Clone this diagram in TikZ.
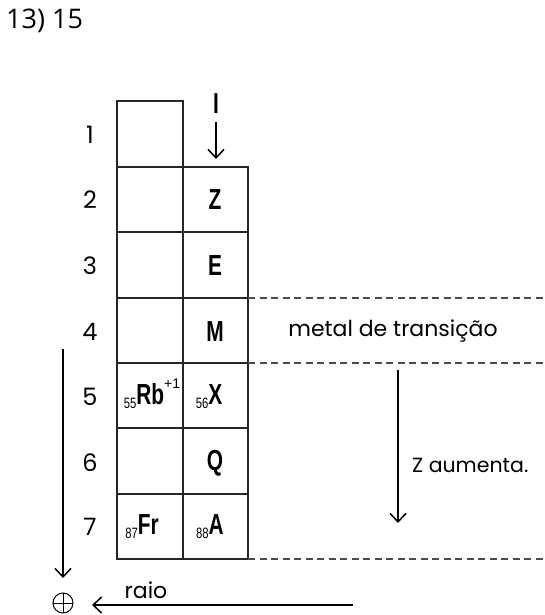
\documentclass[tikz,border=0pt]{standalone}
\usepackage{graphicx}
\usepackage{fontspec}
\setmainfont{Poppins}
\newfontfamily\numfont{Open Sans}
\newfontfamily\symfont{Liberation Sans}
\usetikzlibrary{arrows.meta}
\newcommand\elsym[1]{\scalebox{0.72}[1]{\symfont\bfseries\fontsize{29}{29}\selectfont #1}}
\newcommand\elsub[1]{\raisebox{-4pt}{\scalebox{0.75}[1]{\symfont\fontsize{15}{15}\selectfont #1}}}
\newcommand\elchg[1]{\raisebox{16pt}{\symfont\fontsize{14}{14}\selectfont #1}}
\begin{document}
\begin{tikzpicture}[x=1pt,y=-1pt,
  gridline/.style={line width=1.2pt, draw=black!85},
  dashline/.style={line width=1.1pt, draw=black!70, dash pattern=on 7pt off 4.5pt},
  arr/.style={line width=1.2pt, -{Straight Barb[length=8.5pt,width=16pt,line width=1.5pt]}},
  lab/.style={font=\fontsize{22}{26}\selectfont, inner sep=0pt},
  rownum/.style={font=\fontsize{24}{26}\selectfont, inner sep=0pt},
  elem/.style={inner sep=0pt}
]
\useasboundingbox (0,0) rectangle (544,615);

% title
\node[font=\numfont\fontsize{27}{28}\selectfont, anchor=west, inner sep=0pt] (title) at (6,21) {13) 15};

% grid
\draw[gridline] (117,101) rectangle (183,167);
\foreach \ya/\yb in {167/232,232/298,298/363,363/428,428/494,494/559}{
  \draw[gridline] (117,\ya) rectangle (183,\yb);
  \draw[gridline] (183,\ya) rectangle (248,\yb);
}

% dashed lines
\coordinate (d1a) at (248,298); \coordinate (d1b) at (544,298);
\coordinate (d2a) at (248,363); \coordinate (d2b) at (544,363);
\coordinate (d3a) at (248,559); \coordinate (d3b) at (544,559);
\draw[dashline] (d1a) -- (d1b);
\draw[dashline] (d2a) -- (d2b);
\draw[dashline] (d3a) -- (d3b);

% row numbers
\node[rownum] (r1) at (90,135) {1};
\node[rownum] (r2) at (90,200) {2};
\node[rownum] (r3) at (90,266) {3};
\node[rownum] (r4) at (90,332) {4};
\node[rownum] (r5) at (90,397) {5};
\node[rownum] (r6) at (90,463) {6};
\node[rownum] (r7) at (90,527) {7};

% group label and arrow
\node[elem] (grp) at (216,104) {\elsym{I}};
\coordinate (ga) at (216,122);
\coordinate (gb) at (216,159);
\draw[arr] (ga) -- (gb);

% elements
\node[elem] (Z) at (215,200) {\elsym{Z}};
\node[elem] (E) at (215,266) {\elsym{E}};
\node[elem] (M) at (215,332) {\elsym{M}};
\node[elem, anchor=base] (Rb) at (152,404) {\elsub{55}\elsym{Rb}\elchg{+1}};
\node[elem, anchor=base] (X) at (209,404) {\elsub{56}\elsym{X}};
\node[elem] (Q) at (215,463) {\elsym{Q}};
\node[elem, anchor=base] (Fr) at (142,534) {\elsub{87}\elsym{Fr}};
\node[elem, anchor=base] (A) at (210,534) {\elsub{88}\elsym{A}};

% labels
\node[lab] (mt) at (393,331) {metal de transição};
\node[lab, anchor=west, font=\fontsize{20.5}{24}\selectfont] (za) at (412,465) {Z aumenta.};
\node[lab] (raio) at (146,590) {raio};

% period arrow (right)
\coordinate (pa) at (398,370);
\coordinate (pb) at (398,523);
\draw[arr] (pa) -- (pb);

% left arrow
\coordinate (la) at (63,349);
\coordinate (lb) at (63,578);
\draw[arr] (la) -- (lb);

% circled plus
\coordinate (plus) at (63,603);
\draw[line width=1pt] (plus) circle[radius=10];
\draw[line width=0.9pt] ([yshift=-10pt]plus) -- ([yshift=10pt]plus) ([xshift=-10pt]plus) -- ([xshift=10pt]plus);

% raio arrow
\coordinate (ra) at (353,605);
\coordinate (rb) at (92,605);
\draw[arr] (ra) -- (rb);
\end{tikzpicture}
\end{document}
